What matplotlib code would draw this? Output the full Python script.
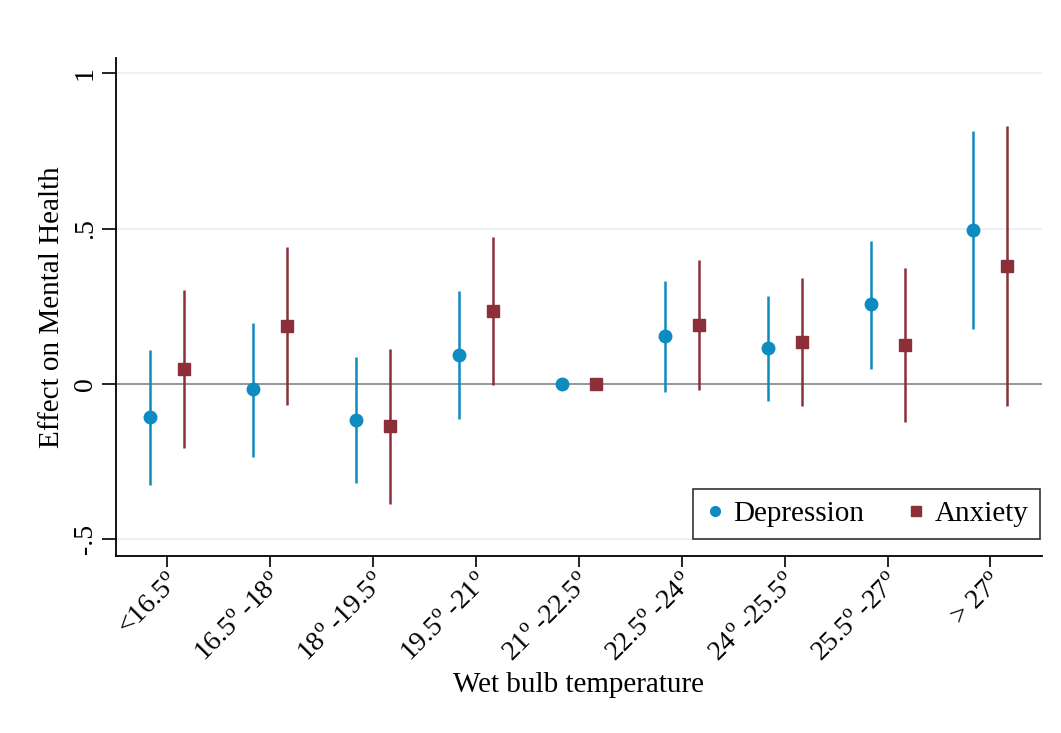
import numpy as np
import matplotlib
matplotlib.use("Agg")
import matplotlib.pyplot as plt

# values
cats = ["<16.5$^{\\mathrm{o}}$", "16.5$^{\\mathrm{o}}\\,$-18$^{\\mathrm{o}}$",
        "18$^{\\mathrm{o}}\\,$-19.5$^{\\mathrm{o}}$", "19.5$^{\\mathrm{o}}\\,$-21$^{\\mathrm{o}}$",
        "21$^{\\mathrm{o}}\\,$-22.5$^{\\mathrm{o}}$", "22.5$^{\\mathrm{o}}\\,$-24$^{\\mathrm{o}}$",
        "24$^{\\mathrm{o}}\\,$-25.5$^{\\mathrm{o}}$", "25.5$^{\\mathrm{o}}\\,$-27$^{\\mathrm{o}}$",
        "> 27$^{\\mathrm{o}}$"]
dep = [-0.106, -0.016, -0.116, 0.094, 0.0, 0.155, 0.116, 0.258, 0.497]
dep_lo = [-0.326, -0.235, -0.319, -0.113, 0.0, -0.026, -0.055, 0.048, 0.177]
dep_hi = [0.110, 0.197, 0.087, 0.300, 0.0, 0.332, 0.284, 0.461, 0.813]
anx = [0.048, 0.187, -0.135, 0.235, 0.0, 0.190, 0.135, 0.126, 0.381]
anx_lo = [-0.206, -0.068, -0.387, -0.003, 0.0, -0.019, -0.071, -0.123, -0.071]
anx_hi = [0.303, 0.442, 0.113, 0.474, 0.0, 0.400, 0.342, 0.374, 0.832]

plt.rcParams['font.family'] = ['Liberation Serif', 'DejaVu Serif']
plt.rcParams['mathtext.fontset'] = 'custom'
plt.rcParams['mathtext.rm'] = 'Liberation Serif'

blue = "#0e8bc0"
red = "#8c2f39"

fig = plt.figure(figsize=(10.61, 7.33), dpi=100)
ax = fig.add_axes([0.1093, 0.2415, 0.8727, 0.6795])

x = np.arange(1, len(cats) + 1)
off = 0.165
for v, lo, hi, xs, c, m, ms in [(dep, dep_lo, dep_hi, x - off, blue, 'o', 9),
                                 (anx, anx_lo, anx_hi, x + off, red, 's', 8.5)]:
    ax.vlines(xs, lo, hi, color=c, lw=1.8, zorder=3)
    ax.plot(xs, v, ls='none', marker=m, ms=ms, color=c, zorder=4)

ax.axhline(0, color="#7f8585", lw=1.2, zorder=2)
for yv in [-0.5, 0.5, 1]:
    ax.axhline(yv, color="#eaf2f3", lw=1.5, zorder=1)

ax.set_xlim(0.5, 9.5)
ax.set_ylim(-0.555, 1.05)
ax.set_yticks([-0.5, 0, 0.5, 1])
ax.set_yticklabels(["-.5", "0", ".5", "1"], rotation=90, va='center', fontsize=20)
ax.set_xticks(x)
ax.set_xticklabels(cats, rotation=45, ha='right', rotation_mode='anchor', fontsize=20)
ax.tick_params(axis='y', length=10, width=1.2, pad=3)
ax.tick_params(axis='x', length=8, width=1.2, pad=2)
ax.spines['top'].set_visible(False)
ax.spines['right'].set_visible(False)
ax.spines['left'].set_linewidth(1.3)
ax.spines['bottom'].set_linewidth(1.3)

ax.set_ylabel("Effect on Mental Health", fontsize=21, labelpad=6)
ax.set_xlabel("Wet bulb temperature", fontsize=21, labelpad=4)

h1 = plt.Line2D([], [], ls='none', marker='o', ms=7, color=blue)
h2 = plt.Line2D([], [], ls='none', marker='s', ms=7, color=red)
leg = ax.legend([h1, h2], ["Depression", "Anxiety"], ncol=2, loc='lower right',
                bbox_to_anchor=(0.998, 0.034), borderaxespad=0, fontsize=21,
                frameon=True, fancybox=False, edgecolor='black', handletextpad=0.3,
                columnspacing=1.4, borderpad=0.4, handlelength=0.7)
leg.get_frame().set_linewidth(1.2)

fig.savefig("out.png", dpi=100)
